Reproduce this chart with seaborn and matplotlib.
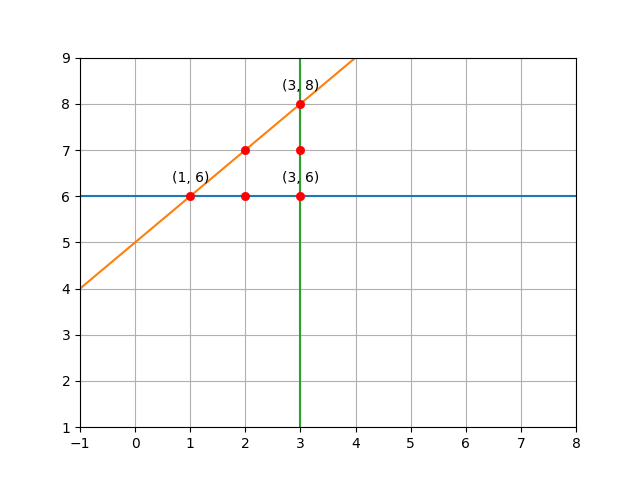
import matplotlib
matplotlib.use("Agg")
import matplotlib.pyplot as plt
import seaborn as sns

# lines
h_x = [-1, 8]
h_y = [6, 6]
d_x = [-1, 8]
d_y = [4, 13]
v_x = [3, 3]
v_y = [1, 9]

# points
pt_x = [1, 2, 3, 2, 3, 3]
pt_y = [6, 6, 6, 7, 7, 8]

# labelled points
lab_x = [1, 3, 3]
lab_y = [6, 6, 8]

fig, ax = plt.subplots(figsize=(6.4, 4.8), dpi=100)

sns.lineplot(x=h_x, y=h_y, ax=ax, color="C0", estimator=None, sort=False)
sns.lineplot(x=d_x, y=d_y, ax=ax, color="C1", estimator=None, sort=False)
sns.lineplot(x=v_x, y=v_y, ax=ax, color="C2", estimator=None, sort=False)
sns.scatterplot(x=pt_x, y=pt_y, ax=ax, color="red", edgecolor="red",
                s=36, zorder=3)

for x, y in zip(lab_x, lab_y):
    ax.annotate(f"({x}, {y})", (x, y), textcoords="offset points",
                xytext=(0, 10), ha="center")

ax.set_xlim(-1, 8)
ax.set_ylim(1, 9)
ax.set_xticks(range(-1, 9))
ax.set_yticks(range(1, 10))
ax.grid(True)

fig.savefig("out.png", dpi=100)
